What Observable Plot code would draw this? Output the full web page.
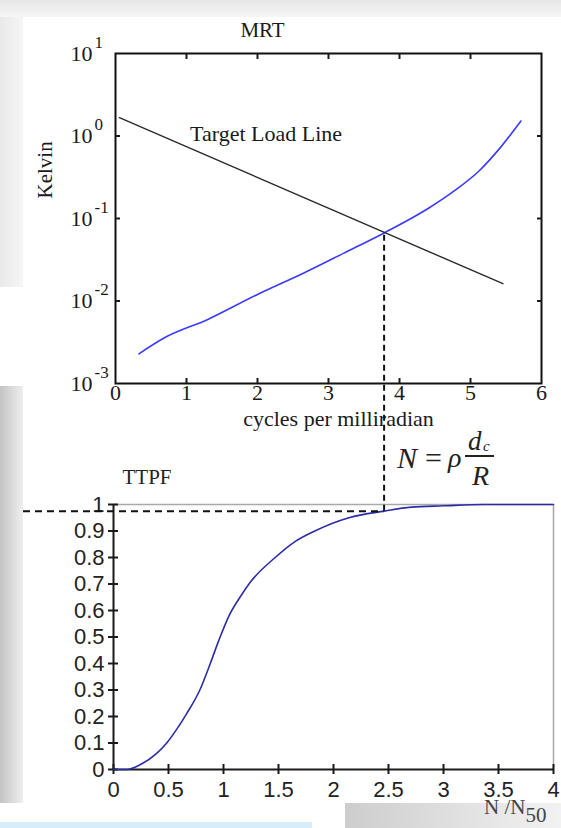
<!DOCTYPE html>
<html><head><meta charset="utf-8">
<script src="https://cdn.jsdelivr.net/npm/d3@7"></script>
<script src="https://cdn.jsdelivr.net/npm/@observablehq/plot@0.6"></script>
<style>
html,body{margin:0;padding:0;background:#fff;}
#page{position:relative;width:561px;height:828px;overflow:hidden;background:#fff;}
.bg{position:absolute;}
#page svg{position:absolute;left:0;top:0;overflow:visible;}
.f{position:absolute;font-family:"Liberation Serif","Times New Roman",serif;color:#222;line-height:1em;white-space:nowrap;}
.i{font-style:italic;}
</style></head><body>
<div id="page">
  <div class="bg" style="left:0;top:0;width:561px;height:17px;background:linear-gradient(#e6e6e6,#f6f6f6);"></div>
  <div class="bg" style="left:0;top:17px;width:23px;height:270px;background:linear-gradient(90deg,#e9e9e9,#f6f6f6);"></div>
  <div class="bg" style="left:0;top:386px;width:23px;height:417px;background:linear-gradient(90deg,#c4c4c4,#efefef);"></div>
  <div class="bg" style="left:345px;top:803px;width:216px;height:25px;background:linear-gradient(90deg,#cdcdcd,#f2f2f2);"></div>
  <div class="bg" style="left:0;top:822px;width:312px;height:6px;background:#d6eef9;"></div>
  <div id="charts"></div>
  <div class="f i" style="left:397px;top:443px;font-size:30px;">N</div>
  <div class="f" style="left:425px;top:443px;font-size:30px;">=</div>
  <div class="f i" style="left:448px;top:444px;font-size:28px;">ρ</div>
  <div class="f i" style="left:468px;top:428px;font-size:27px;">d</div>
  <div class="f i" style="left:483px;top:439px;font-size:15px;">c</div>
  <div class="bg" style="left:465px;top:455px;width:29px;height:1.5px;background:#222;"></div>
  <div class="f i" style="left:472px;top:462px;font-size:28px;">R</div>
</div>
<script>
// ---------- MRT chart data ----------
const mrtFreq = [0.33, 0.69, 1.30, 2.00, 2.66, 3.21, 3.79, 4.42, 4.77, 5.12, 5.42, 5.71];
const mrtKelvin = [0.00229, 0.00358, 0.00598, 0.0120, 0.0220, 0.0378, 0.0673, 0.135, 0.216, 0.377, 0.723, 1.52];
const loadFreq = [0.055, 5.457];
const loadKelvin = [1.67, 0.0162];
const mrtCrossFreq = 3.79;
const mrtCrossKelvin = 0.0673;
const xTicksTop = [0, 1, 2, 3, 4, 5, 6];
const yTicksTop = [1e-3, 1e-2, 1e-1, 1, 10];
const loadLabel = {x: 1.05, k: 1.07, text: "Target Load Line"};

// ---------- TTPF chart data ----------
const ttpfN = [0, 0.12, 0.25, 0.39, 0.484, 0.58, 0.664, 0.785, 0.88, 0.96, 1.05, 1.15, 1.25, 1.47, 1.65, 1.83, 2.14, 2.46, 2.71, 3.0, 3.36, 4.0];
const ttpfP = [0, 0, 0.02, 0.06, 0.10, 0.155, 0.21, 0.30, 0.40, 0.49, 0.58, 0.65, 0.71, 0.80, 0.86, 0.90, 0.95, 0.975, 0.99, 0.995, 1.0, 1.0];
const ttpfCrossN = 2.46;
const ttpfCrossP = 0.975;
const xTicksBottom = [0, 0.5, 1, 1.5, 2, 2.5, 3, 3.5, 4];
const yTicksBottom = [0, 0.1, 0.2, 0.3, 0.4, 0.5, 0.6, 0.7, 0.8, 0.9, 1];

const W = 561, H = 828;
const serif = "'Liberation Serif','Times New Roman',serif";
const sans = "'Liberation Sans',Arial,sans-serif";

const mrt = mrtFreq.map((x, i) => ({x, k: mrtKelvin[i]}));
const load = loadFreq.map((x, i) => ({x, k: loadKelvin[i]}));
const ttpf = ttpfN.map((n, i) => ({n, p: ttpfP[i]}));
const inner = (a) => a.slice(1, -1);
const plain = (d) => String(d);

const topPlot = Plot.plot({
  width: W, height: H,
  marginLeft: 115, marginRight: 20, marginTop: 53, marginBottom: H - 383,
  style: {background: "transparent", fontFamily: serif, fontSize: "21px", color: "#1a1a1a", overflow: "visible"},
  x: {domain: [0, 6], label: null},
  y: {type: "log", domain: [1e-3, 10], label: null},
  marks: [
    Plot.line(mrt, {x: "x", y: "k", stroke: "#3b3bff", strokeWidth: 1.6, curve: "monotone-x"}),
    Plot.line(load, {x: "x", y: "k", stroke: "#2a2a2a", strokeWidth: 1.4}),
    Plot.frame({stroke: "#111", strokeWidth: 2}),
    Plot.axisX(inner(xTicksTop), {anchor: "bottom", tickSize: -5, tickFormat: () => "", strokeWidth: 2}),
    Plot.axisX(inner(xTicksTop), {anchor: "top", tickSize: -5, tickFormat: () => "", strokeWidth: 2}),
    Plot.axisY(inner(yTicksTop), {anchor: "left", tickSize: -5, tickFormat: () => "", strokeWidth: 2}),
    Plot.axisY(inner(yTicksTop), {anchor: "right", tickSize: -5, tickFormat: () => "", strokeWidth: 2}),
    Plot.axisX(xTicksTop, {anchor: "bottom", tickSize: 0, tickPadding: 1, fontSize: 22, tickFormat: plain}),
    Plot.text(yTicksTop, {x: 0, y: d => d, text: () => "10", textAnchor: "end", dx: -23, fontSize: 22}),
    Plot.text(yTicksTop, {x: 0, y: d => d, text: d => String(Math.round(Math.log10(d))), textAnchor: "start", dx: -21, dy: -11, fontSize: 17}),
    Plot.text([loadLabel], {x: "x", y: "k", text: "text", textAnchor: "start", fontSize: 22}),
    Plot.text(["MRT"], {frameAnchor: "top", lineAnchor: "middle", text: d => d, dx: -66, dy: -23, fontSize: 21}),
    Plot.text(["Kelvin"], {frameAnchor: "left", lineAnchor: "middle", text: d => d, rotate: -90, dx: -70, dy: -20, fontSize: 21}),
    Plot.text(["cycles per milliradian"], {frameAnchor: "bottom", lineAnchor: "middle", text: d => d, dx: 10, dy: 35, fontSize: 22})
  ]
});

// connector geometry derived from the scales
const topY = topPlot.scale("y");
const yB = Plot.scale({y: {domain: [0, 1], range: [H - 59, 504]}});
const xB = Plot.scale({x: {domain: [0, 4], range: [113, W - 8]}});
const connectorTopP = yB.invert(topY.apply(mrtCrossKelvin));
const dashLeftN = xB.invert(23);

const bottomPlot = Plot.plot({
  width: W, height: H,
  marginLeft: 113, marginRight: 8, marginTop: 504, marginBottom: 59,
  style: {background: "transparent", fontFamily: sans, fontSize: "22px", color: "#222", overflow: "visible"},
  x: {domain: [0, 4], label: null},
  y: {domain: [0, 1], label: null},
  marks: [
    Plot.ruleY([1], {stroke: "#a8a8a8", strokeWidth: 1.5}),
    Plot.ruleX([4], {stroke: "#a8a8a8", strokeWidth: 1.5}),
    Plot.ruleY([0], {stroke: "#1a1a1a", strokeWidth: 2}),
    Plot.ruleX([0], {stroke: "#1a1a1a", strokeWidth: 2}),
    Plot.axisX(xTicksBottom, {anchor: "bottom", tickSize: 10, dy: -5, tickFormat: () => "", strokeWidth: 2, stroke: "#1a1a1a"}),
    Plot.axisY(yTicksBottom, {anchor: "left", tickSize: 10, dx: 5, tickFormat: () => "", strokeWidth: 2, stroke: "#1a1a1a"}),
    Plot.axisX(xTicksBottom, {anchor: "bottom", tickSize: 0, tickPadding: 12, fontSize: 22, tickFormat: plain}),
    Plot.axisY(yTicksBottom, {anchor: "left", tickSize: 0, tickPadding: 9, fontSize: 22, tickFormat: plain}),
    Plot.line(ttpf, {x: "n", y: "p", stroke: "#2c2ca6", strokeWidth: 1.6, curve: "monotone-x"}),
    Plot.ruleX([ttpfCrossN], {x: d => d, y1: ttpfCrossP, y2: connectorTopP, stroke: "#111", strokeWidth: 2, strokeDasharray: "6,4"}),
    Plot.ruleY([ttpfCrossP], {y: d => d, x1: dashLeftN, x2: ttpfCrossN, stroke: "#111", strokeWidth: 2, strokeDasharray: "7,5"}),
    Plot.text(["TTPF"], {frameAnchor: "top-left", lineAnchor: "middle", text: d => d, textAnchor: "start", dx: 9, dy: -27, fontFamily: serif, fontSize: 21}),
    Plot.text(["N /N"], {frameAnchor: "bottom-right", lineAnchor: "middle", text: d => d, textAnchor: "end", dx: -28, dy: 38, fontFamily: serif, fontSize: 21, fill: "#444"}),
    Plot.text(["50"], {frameAnchor: "bottom-right", lineAnchor: "middle", text: d => d, textAnchor: "start", dx: -28, dy: 46, fontFamily: serif, fontSize: 21, fill: "#444"})
  ]
});

document.getElementById("charts").append(topPlot, bottomPlot);
</script>
</body></html>
